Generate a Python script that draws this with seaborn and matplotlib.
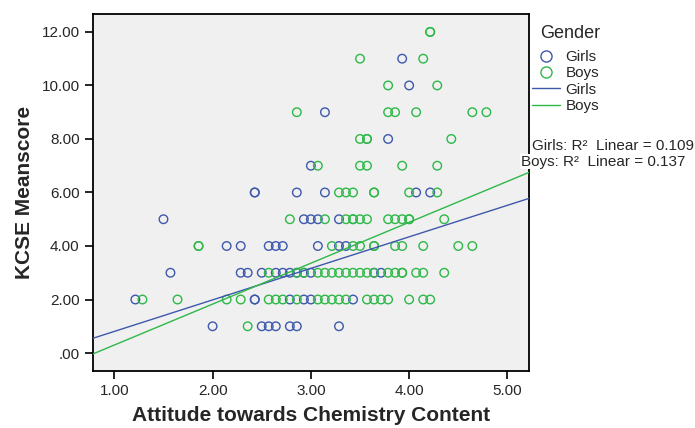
import numpy as np
import pandas as pd
import matplotlib
matplotlib.use("Agg")
import matplotlib.pyplot as plt
import seaborn as sns
from matplotlib.lines import Line2D
from matplotlib.ticker import FuncFormatter, FixedLocator

# ---------------- data ----------------
girls_x = [3.929, 4.0, 3.143, 3.786, 3.0,
           2.429, 2.429, 2.857, 3.143, 4.071, 4.214,
           1.5, 2.929, 3.0, 3.071, 3.286,
           2.143, 2.286, 2.571, 2.643, 2.714, 3.071, 3.286, 3.357,
           1.571, 2.286, 2.357, 2.5, 2.643, 2.714, 2.786, 2.857, 2.929, 3.0, 3.643, 3.714,
           1.214, 2.429, 2.429, 2.786, 2.929, 3.0, 3.429,
           2.0, 2.5, 2.571, 2.643, 2.786, 2.857, 3.286]
girls_y = [11, 10, 9, 8, 7,
           6, 6, 6, 6, 6, 6,
           5, 5, 5, 5, 5,
           4, 4, 4, 4, 4, 4, 4, 4,
           3, 3, 3, 3, 3, 3, 3, 3, 3, 3, 3, 3,
           2, 2, 2, 2, 2, 2, 2,
           1, 1, 1, 1, 1, 1, 1]

boys_x = [4.214, 4.214,
          3.5, 4.143,
          3.786, 4.286,
          2.857, 3.786, 3.857, 4.071, 4.643, 4.786,
          3.5, 3.571, 3.571, 4.429,
          3.071, 3.5, 3.571, 3.929, 4.286,
          3.286, 3.357, 3.429, 3.643, 3.643, 4.0, 4.286,
          2.786, 3.143, 3.357, 3.429, 3.429, 3.5, 3.571, 3.786, 3.857, 3.929, 4.0, 4.0, 4.357,
          1.857, 1.857, 3.214, 3.429, 3.5, 3.643, 3.643, 3.857, 3.929, 4.143, 4.5, 4.643,
          2.571, 2.857, 2.929, 3.071, 3.143, 3.214, 3.286, 3.357, 3.429, 3.5, 3.571, 3.643,
          3.786, 3.857, 3.929, 3.929, 4.071, 4.143, 4.357,
          1.286, 1.643, 2.143, 2.286, 2.571, 2.643, 2.714, 2.857, 3.071, 3.143, 3.214, 3.286,
          3.357, 3.571, 3.643, 3.714, 3.786, 4.0, 4.143, 4.214,
          2.357]
boys_y = [12, 12,
          11, 11,
          10, 10,
          9, 9, 9, 9, 9, 9,
          8, 8, 8, 8,
          7, 7, 7, 7, 7,
          6, 6, 6, 6, 6, 6, 6,
          5, 5, 5, 5, 5, 5, 5, 5, 5, 5, 5, 5, 5,
          4, 4, 4, 4, 4, 4, 4, 4, 4, 4, 4, 4,
          3, 3, 3, 3, 3, 3, 3, 3, 3, 3, 3, 3,
          3, 3, 3, 3, 3, 3, 3,
          2, 2, 2, 2, 2, 2, 2, 2, 2, 2, 2, 2,
          2, 2, 2, 2, 2, 2, 2, 2,
          1]

groups = ["Girls", "Boys"]
colors = ["#3E58AC", "#2EB848"]
r2_values = [0.109, 0.137]
# fit lines as shown in the reference (intercept, slope)
fit_intercepts = [-0.37, -1.23]
fit_slopes = [1.178, 1.529]
x_ticks = [1, 2, 3, 4, 5]
y_ticks = [0, 2, 4, 6, 8, 10, 12]

df = pd.DataFrame({
    "Attitude": girls_x + boys_x,
    "Score": girls_y + boys_y,
    "Gender": ["Girls"] * len(girls_x) + ["Boys"] * len(boys_x),
})

# ---------------- styling ----------------
sns.set_style("white")
plt.rcParams["font.family"] = ["Liberation Sans", "DejaVu Sans"]

fig = plt.figure(figsize=(6.95, 4.28), dpi=100)
ax = fig.add_axes([0.1334, 0.1339, 0.7612 - 0.1334, 0.9673 - 0.1339])
ax.set_facecolor("#F0F0F0")
XLIM = (0.78, 5.22)
YLIM = (-0.66, 12.67)
ax.set_xlim(*XLIM)
ax.set_ylim(*YLIM)

sns.scatterplot(data=df, x="Attitude", y="Score", hue="Gender", hue_order=groups,
                palette=colors, s=38, linewidth=1.0, legend=False, ax=ax, zorder=3)
for coll in ax.collections:
    fc = coll.get_facecolors()
    coll.set_edgecolors(fc)
    coll.set_facecolors("none")

grid = np.array(XLIM)
for g, c, b0, b1 in zip(groups, colors, fit_intercepts, fit_slopes):
    sns.lineplot(x=grid, y=b0 + b1 * grid, color=c, lw=1.0, ax=ax, zorder=4)

ax.set_xlim(*XLIM)
ax.set_ylim(*YLIM)

ax.xaxis.set_major_locator(FixedLocator(x_ticks))
ax.yaxis.set_major_locator(FixedLocator(y_ticks))
fmt = FuncFormatter(lambda v, p: ".00" if abs(v) < 1e-9 else f"{v:.2f}")
ax.xaxis.set_major_formatter(fmt)
ax.yaxis.set_major_formatter(fmt)
ax.tick_params(axis="both", which="major", direction="out", length=5.5, width=1.2,
               color="black", labelsize=11, pad=4, left=True, bottom=True)
for sp in ax.spines.values():
    sp.set_color("black")
    sp.set_linewidth(1.3)

ax.set_xlabel("Attitude towards Chemistry Content", fontsize=15, fontweight="bold", labelpad=6)
ax.set_ylabel("KCSE Meanscore", fontsize=15, fontweight="bold", labelpad=5)

# ---------------- legend ----------------
fig.text(540 / 695, 1 - 33 / 428, "Gender", fontsize=13, va="center", ha="left")
handles = [Line2D([], [], ls="none", marker="o", mfc="none", mec=c, mew=1.0, ms=8) for c in colors]
handles += [Line2D([], [], color=c, lw=1.0) for c in colors]
labels = groups + groups
leg = fig.legend(handles, labels, loc="upper left",
                 bbox_to_anchor=(532 / 695, 1 - 50 / 428), frameon=False,
                 fontsize=11, handlelength=1.8, labelspacing=0.15, handletextpad=0.4,
                 borderaxespad=0, borderpad=0)

ypos = [146, 161.7]
xpos = [531.7, 520.7]
for g, r, yp, xp in zip(groups, r2_values, ypos, xpos):
    fig.text(xp / 695, 1 - yp / 428, f"{g}: R²  Linear = {r:.3f}", fontsize=11,
             va="center", ha="left",
             bbox=dict(facecolor="white", edgecolor="none", pad=0.5))

fig.savefig("out.png", dpi=100)
